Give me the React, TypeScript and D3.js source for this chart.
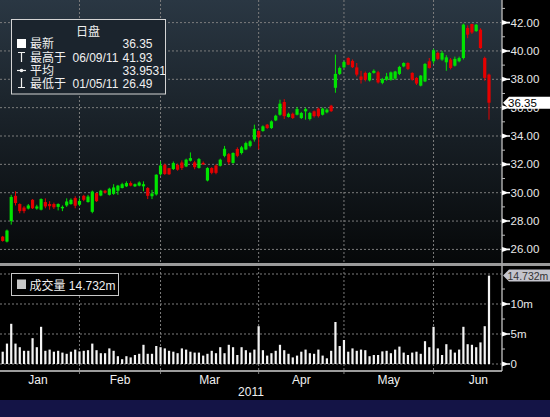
import React from 'react';
import * as d3 from 'd3';

const opens = [26.90,26.55,28.00,29.78,29.20,28.95,28.88,29.50,28.88,28.80,29.34,29.20,29.20,29.00,28.90,29.10,29.20,29.62,29.15,29.78,29.34,28.65,29.97,29.80,30.14,29.85,29.92,30.14,30.33,30.45,30.68,30.45,30.50,30.45,30.33,29.75,29.88,31.30,31.97,31.73,31.67,31.97,32.13,31.85,32.25,32.14,31.75,32.10,30.86,31.74,31.92,31.90,32.60,32.72,32.10,33.08,32.80,33.05,33.30,33.75,34.35,34.35,34.80,34.56,35.10,35.50,36.40,35.34,35.57,35.50,35.27,35.74,35.20,35.74,35.93,35.50,35.67,36.14,37.40,38.38,38.84,39.50,39.30,38.84,38.20,38.45,37.92,38.45,38.49,37.75,37.97,37.97,38.05,38.38,38.91,39.15,38.45,38.10,37.55,37.85,39.27,39.27,39.86,39.39,39.20,39.39,38.96,39.27,39.50,41.62,41.90,41.40,41.50,39.50,38.33];
const highs = [26.95,27.40,29.85,30.10,29.25,29.05,29.20,29.55,29.15,29.60,29.60,29.40,29.30,29.25,29.10,29.60,29.60,29.75,29.60,29.85,29.85,30.15,30.00,30.20,30.20,30.35,30.60,30.55,30.70,30.80,30.80,30.65,30.80,30.80,30.40,30.20,31.30,32.20,32.05,31.75,32.20,32.05,32.28,32.40,32.84,32.25,32.45,32.20,31.80,31.80,32.00,32.40,33.30,32.80,32.85,33.20,33.30,33.60,33.70,34.80,34.40,34.75,34.85,35.10,35.50,36.56,36.60,35.65,35.65,36.05,35.70,36.00,35.70,35.80,36.00,36.00,35.95,36.20,39.74,38.90,39.30,39.55,39.40,39.15,38.60,38.55,38.50,38.70,38.60,38.10,38.45,38.55,38.60,38.95,39.20,39.20,38.50,38.15,38.30,39.15,39.50,40.15,39.95,40.00,39.70,39.50,39.60,39.60,41.93,41.80,41.92,41.90,41.60,39.60,38.40];
const lows = [26.55,26.49,27.75,29.10,28.55,28.55,28.82,28.85,28.80,28.75,28.90,28.80,28.85,28.75,28.70,29.00,29.15,28.90,29.05,29.40,29.30,28.55,29.35,29.75,29.95,29.80,29.85,29.85,30.30,30.40,30.45,30.40,30.45,30.10,29.55,29.55,29.80,31.20,31.25,31.25,31.60,31.55,31.60,31.80,32.20,31.65,31.70,31.95,30.80,31.30,31.30,31.85,32.50,32.00,32.05,32.50,32.70,33.00,33.20,33.60,33.05,34.30,34.50,34.50,35.05,35.43,35.20,35.30,35.20,35.45,35.20,35.15,35.10,35.30,35.30,35.45,35.60,35.70,37.05,38.30,38.80,39.00,38.80,38.20,37.70,37.85,37.85,38.40,37.70,37.65,37.90,37.90,37.95,38.30,38.85,38.65,37.90,37.60,37.50,37.80,38.75,39.10,39.35,39.30,38.60,38.70,38.90,39.20,39.40,40.90,41.20,41.35,40.15,37.90,35.15];
const closes = [26.60,27.33,29.70,29.27,28.70,28.70,29.10,28.90,29.03,29.55,29.03,29.05,28.97,29.20,29.00,29.38,29.50,29.08,29.42,29.50,29.73,30.08,29.40,30.14,30.00,30.28,30.37,30.50,30.60,30.68,30.50,30.60,30.72,30.60,29.78,29.95,31.27,31.92,31.32,31.30,32.09,31.62,31.74,32.33,32.44,31.80,32.37,32.00,31.74,31.40,31.40,32.33,33.10,32.15,32.80,32.60,33.20,33.50,33.62,34.50,33.90,34.68,34.56,35.03,35.43,36.28,35.40,35.57,35.27,35.90,35.62,35.90,35.62,35.40,35.40,35.93,35.86,35.75,38.38,38.80,39.22,39.03,38.85,38.33,37.97,37.97,38.45,38.60,37.78,38.02,38.20,38.49,38.55,38.87,39.15,38.73,37.97,37.70,38.26,39.08,38.80,40.05,39.44,39.86,39.55,38.80,39.44,39.50,41.86,41.15,41.30,41.85,40.20,38.10,36.35];
const volumes = [2.05,3.4,6.7,3.4,2.8,2.2,2.2,4.3,2.8,6.2,2.2,2.4,2.05,2.2,1.9,1.7,2.05,2.4,2.1,2.2,2.3,3.4,2.3,1.8,1.8,2.6,2.2,1.3,0.8,1.3,1.1,1.5,1.7,3.2,1.7,1.7,3.0,2.8,2.6,2.2,2.05,1.8,2.6,2.4,2.05,1.9,1.9,1.4,1.7,2.2,1.8,2.8,1.8,3.2,2.8,1.5,2.8,2.3,1.9,2.4,6.3,2.3,1.4,1.8,2.2,3.2,2.3,1.7,1.1,1.4,2.05,2.4,1.8,1.7,2.4,1.4,0.95,2.2,7.0,3.0,4.0,2.05,2.6,2.2,2.4,2.3,1.3,1.5,1.5,2.1,2.2,1.8,2.4,2.9,1.9,1.5,1.9,2.05,1.7,3.8,2.8,6.2,2.6,1.5,3.3,2.4,1.9,2.4,6.2,3.3,3.2,2.8,3.6,6.3,14.732];

const priceTicks = [26, 28, 30, 32, 34, 36, 38, 40, 42];
const priceMinor = [27, 29, 31, 33, 35, 37, 39, 41, 43];
const volTicks = [0, 5, 10];
const volTickLabels = ['0', '5m', '10m'];
const volMinor = [2.5, 7.5, 12.5];
const volGrid = [0, 5, 10, 15];
const monthLabels = ['Jan', 'Feb', 'Mar', 'Apr', 'May', 'Jun'];
const monthBounds = [-1.5, 18, 37, 60, 80, 101, 122];
const yearLabel = '2011';

const legendTitle = '日盘';
const lastLabel = '最新';
const lastValue = '36.35';
const highLabel = '最高于';
const highDate = '06/09/11';
const highValue = '41.93';
const avgLabel = '平均';
const avgValue = '33.9531';
const lowLabel = '最低于';
const lowDate = '01/05/11';
const lowValue = '26.49';
const volLabel = '成交量';
const volValue = '14.732m';

const FONT = '"Liberation Sans", "Noto Sans CJK SC", sans-serif';
const GREEN = '#00e400';
const RED = '#e60000';

export default function App() {
  const n = closes.length;
  const x = d3.scaleLinear().domain([0, n - 1]).range([2.7, 489]);
  const yP = d3.scaleLinear().domain([26, 42]).range([249.4, 22.6]);
  const yV = d3.scaleLinear().domain([0, 15]).range([364, 274]);
  const axisX = 502;
  const fmt = d3.format('.2f');
  const lastY = yP(closes[n - 1]);
  const lastVY = yV(volumes[n - 1]);
  const grid = { stroke: '#7c7c7c', strokeWidth: 1, strokeDasharray: '2,2' };

  return (
    <svg width={550} height={417} style={{ position: 'fixed', left: 0, top: 0 }} fontFamily={FONT}>
      <defs>
        <linearGradient id="pbg" x1="0" y1="0" x2="0" y2="1">
          <stop offset="0" stopColor="#2a3743" />
          <stop offset="1" stopColor="#060809" />
        </linearGradient>
      </defs>
      <rect x={0} y={0} width={550} height={417} fill="#000" />
      <rect x={0} y={0} width={axisX} height={263} fill="url(#pbg)" />
      <rect x={0} y={400} width={550} height={17} fill="#141446" />

      {priceTicks.map((t) => (
        <line key={'pg' + t} x1={0} x2={axisX} y1={yP(t)} y2={yP(t)} {...grid} />
      ))}
      {volGrid.map((t) => (
        <line key={'vg' + t} x1={0} x2={axisX} y1={yV(t)} y2={yV(t)} {...grid} />
      ))}
      {monthBounds.slice(1, 6).map((b) => (
        <line key={'mg' + b} x1={x(b)} x2={x(b)} y1={0} y2={375} {...grid} />
      ))}

      {closes.map((c, i) => {
        const o = opens[i];
        const col = c >= o ? GREEN : RED;
        const top = yP(Math.max(o, c));
        const bot = yP(Math.min(o, c));
        return (
          <g key={'c' + i}>
            <line x1={x(i)} x2={x(i)} y1={yP(highs[i])} y2={yP(lows[i])} stroke={col} strokeWidth={1} />
            <rect x={x(i) - 1.6} y={top} width={3.2} height={Math.max(1, bot - top)} fill={col} />
          </g>
        );
      })}

      {volumes.map((v, i) => (
        <rect key={'v' + i} x={x(i) - 1.1} y={yV(v)} width={2.2} height={yV(0) - yV(v)} fill="#f4f4f4" />
      ))}

      <rect x={0} y={263} width={550} height={3} fill="#9a9a9a" />
      <line x1={axisX} x2={axisX} y1={0} y2={371} stroke="#a8a8a8" strokeWidth={1.5} />
      <line x1={0} x2={axisX} y1={371} y2={371} stroke="#d0d0d0" strokeWidth={1.5} />

      {priceTicks.map((t) => (
        <g key={'pt' + t}>
          <path d={`M${axisX},${yP(t) - 2.5}L${axisX + 5},${yP(t) - 0.8}L${axisX + 8},${yP(t) - 0.8}L${axisX + 8},${yP(t) + 0.8}L${axisX + 5},${yP(t) + 0.8}L${axisX},${yP(t) + 2.5}Z`} fill="#fff" />
          <text x={axisX + 8.5} y={yP(t) + 4} fontSize={11.5} fill="#e8e8e8">{fmt(t)}</text>
        </g>
      ))}
      {priceMinor.map((t) => (
        <line key={'pm' + t} x1={axisX} x2={axisX + 3} y1={yP(t)} y2={yP(t)} stroke="#bbb" strokeWidth={1} />
      ))}
      {volTicks.map((t, i) => (
        <g key={'vt' + t}>
          <path d={`M${axisX},${yV(t) - 2.5}L${axisX + 5},${yV(t) - 0.8}L${axisX + 8},${yV(t) - 0.8}L${axisX + 8},${yV(t) + 0.8}L${axisX + 5},${yV(t) + 0.8}L${axisX},${yV(t) + 2.5}Z`} fill="#fff" />
          <text x={axisX + 8.5} y={yV(t) + 4} fontSize={11.5} fill="#e8e8e8">{volTickLabels[i]}</text>
        </g>
      ))}
      {volMinor.map((t) => (
        <line key={'vm' + t} x1={axisX} x2={axisX + 3} y1={yV(t)} y2={yV(t)} stroke="#bbb" strokeWidth={1} />
      ))}

      <path d={`M${axisX + 1},${lastY}L${axisX + 7},${lastY - 6}L550,${lastY - 6}L550,${lastY + 6}L${axisX + 7},${lastY + 6}Z`} fill="#fff" />
      <text x={axisX + 6} y={lastY + 4} fontSize={11.5} fill="#000">{lastValue}</text>
      <path d={`M${axisX + 1},${lastVY}L${axisX + 7},${lastVY - 6}L550,${lastVY - 6}L550,${lastVY + 6}L${axisX + 7},${lastVY + 6}Z`} fill="#c4c4cc" />
      <text x={axisX + 5.5} y={lastVY + 4} fontSize={10.5} fill="#333">{volValue}</text>

      {monthLabels.map((m, i) => (
        <text key={m} x={x((monthBounds[i] + monthBounds[i + 1]) / 2)} y={384} fontSize={12} fill="#f0f0f0" textAnchor="middle">{m}</text>
      ))}
      <text x={axisX / 2} y={396} fontSize={12} fill="#f0f0f0" textAnchor="middle">{yearLabel}</text>

      <rect x={11.5} y={19.5} width={154} height={74.5} fill="#1b242d" stroke="#d4d4d4" strokeWidth={1} />
      <text x={88} y={35.5} fontSize={12} fill="#f0f0f0" textAnchor="middle">{legendTitle}</text>
      <rect x={17} y={39} width={9} height={9} fill="#fff" />
      <text x={30} y={47.5} fontSize={12} fill="#f0f0f0">{lastLabel}</text>
      <text x={122.5} y={47.5} fontSize={12} fill="#f0f0f0">{lastValue}</text>
      <path d="M18,52.5H25M21.5,52.5V62" stroke="#f0f0f0" strokeWidth={1.2} fill="none" />
      <text x={30} y={61.5} fontSize={12} fill="#f0f0f0">{highLabel}</text>
      <text x={72.5} y={61.5} fontSize={12} fill="#f0f0f0">{highDate}</text>
      <text x={122.5} y={61.5} fontSize={12} fill="#f0f0f0">{highValue}</text>
      <path d="M17,70.5H26" stroke="#f0f0f0" strokeWidth={1.2} />
      <circle cx={21.5} cy={70.5} r={1.8} fill="#f0f0f0" />
      <text x={30} y={74.5} fontSize={12} fill="#f0f0f0">{avgLabel}</text>
      <text x={122.5} y={74.5} fontSize={12} fill="#f0f0f0">{avgValue}</text>
      <path d="M21.5,78V87.5M18,87.5H25" stroke="#f0f0f0" strokeWidth={1.2} fill="none" />
      <text x={30} y={87.5} fontSize={12} fill="#f0f0f0">{lowLabel}</text>
      <text x={72.5} y={87.5} fontSize={12} fill="#f0f0f0">{lowDate}</text>
      <text x={122.5} y={87.5} fontSize={12} fill="#f0f0f0">{lowValue}</text>

      <rect x={11.5} y={273.5} width={107} height={22} fill="#000" stroke="#c8c8c8" strokeWidth={1} />
      <rect x={17} y={279.5} width={9} height={9.5} fill="#c8c8c8" />
      <text x={29.5} y={289.5} fontSize={12} fill="#f0f0f0">{volLabel + ' ' + volValue}</text>
    </svg>
  );
}
